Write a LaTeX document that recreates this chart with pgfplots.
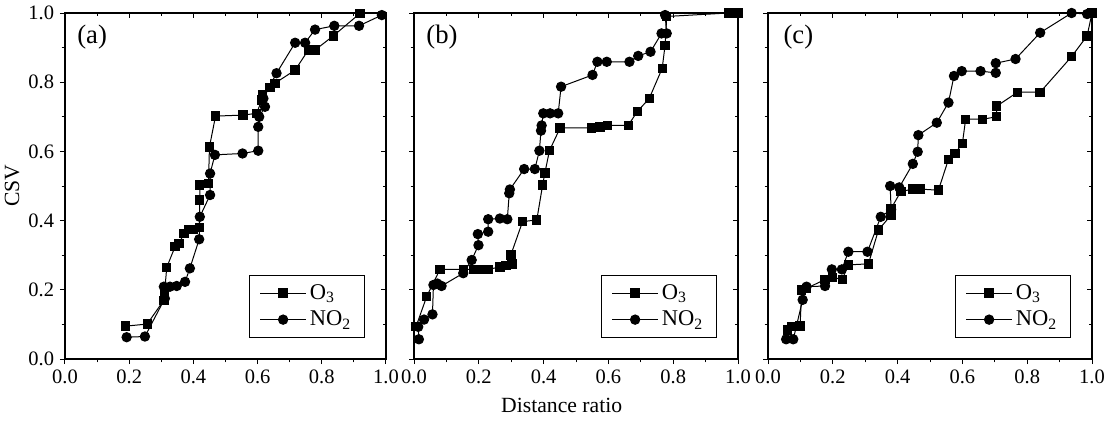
\documentclass[border=0pt]{standalone}
\usepackage{fontspec}
\setmainfont{Liberation Serif}
\usepackage{pgfplots}
\pgfplotsset{compat=1.18}

% 1 px of the reference = 0.6pt
\pgfplotsset{
  panel/.style={
    scale only axis, height=207.6pt,
    xmin=0, xmax=1, ymin=0, ymax=1,
    xtick={0,0.2,0.4,0.6,0.8,1.0}, ytick={0,0.2,0.4,0.6,0.8,1.0},
    minor x tick num=1, minor y tick num=1,
    axis line style={line width=0.7pt},
    major tick length=3pt, minor tick length=2pt,
    every tick/.style={black, line width=0.6pt},
    /pgf/number format/fixed, /pgf/number format/fixed zerofill,
    /pgf/number format/precision=1,
    /pgf/number format/assume math mode=true,
    ticklabel style={font=\fontsize{12.3}{12.3}\selectfont},
    clip=false,
  },
  front/.style={panel, tick align=outside, xtick pos=bottom, ytick pos=left,
    legend style={at={(1,0)}, anchor=south east, xshift=-12.6pt, yshift=12.6pt,
      font=\fontsize{13.5}{13.5}\selectfont, draw=black, line width=0.6pt,
      inner xsep=6pt, inner ysep=3.5pt, row sep=1.5pt},
    legend cell align=left,
    legend image code/.code={\draw[mark repeat=2,mark phase=2,##1]
      plot coordinates {(0pt,0pt)(13.8pt,0pt)(27.6pt,0pt)};},
  },
  back/.style={panel, tick align=inside, xtick pos=top, ytick pos=right,
    xticklabels={}, yticklabels={}},
  othree/.style={black, line width=0.6pt, mark=square*, mark size=2.5pt,
    mark options={solid, fill=black}},
  ntwo/.style={black, line width=0.6pt, mark=*, mark size=2.8pt,
    mark options={solid, fill=black}},
}

\begin{document}
\begin{tikzpicture}
\useasboundingbox (-39pt,-37.2pt) rectangle (628.8pt,215.4pt);

% ---- (a)
\begin{axis}[front, at={(0pt,0pt)}, width=192.6pt]
\addplot[othree] coordinates {
(0.189,0.095)(0.256,0.101)(0.308,0.170)(0.310,0.190)(0.317,0.265)(0.343,0.325)
(0.355,0.334)(0.371,0.363)(0.384,0.375)(0.400,0.375)(0.418,0.380)(0.420,0.460)
(0.420,0.503)(0.447,0.508)(0.450,0.613)(0.469,0.702)(0.555,0.705)(0.597,0.710)
(0.613,0.749)(0.615,0.763)(0.639,0.785)(0.654,0.797)(0.717,0.835)(0.758,0.893)
(0.779,0.893)(0.836,0.934)(0.919,0.999)};
\addlegendentry{O\textsubscript{3}}
\addplot[ntwo] coordinates {
(0.192,0.063)(0.249,0.065)(0.311,0.175)(0.308,0.209)(0.327,0.209)(0.348,0.211)
(0.374,0.223)(0.389,0.262)(0.418,0.346)(0.420,0.411)(0.452,0.474)(0.452,0.536)
(0.467,0.590)(0.553,0.594)(0.602,0.602)(0.602,0.671)(0.605,0.700)(0.623,0.729)
(0.618,0.753)(0.659,0.826)(0.717,0.914)(0.748,0.914)(0.779,0.952)(0.839,0.963)
(0.916,0.963)(0.987,0.994)};
\addlegendentry{NO\textsubscript{2}}
\node[anchor=west, font=\fontsize{16}{16}\selectfont] at (rel axis cs:0.02,0.93) {(a)};
\end{axis}
\begin{axis}[back, at={(0pt,0pt)}, width=192.6pt]
\end{axis}

% ---- (b)
\begin{axis}[front, at={(209.4pt,0pt)}, width=194.4pt, yticklabels={}]
\addplot[othree] coordinates {
(0.006,0.093)(0.039,0.180)(0.080,0.259)(0.152,0.259)(0.183,0.259)(0.209,0.259)
(0.229,0.259)(0.265,0.266)(0.284,0.270)(0.302,0.275)(0.299,0.301)(0.335,0.397)
(0.379,0.402)(0.397,0.503)(0.404,0.538)(0.418,0.602)(0.451,0.668)(0.548,0.668)
(0.574,0.671)(0.597,0.675)(0.661,0.675)(0.689,0.715)(0.726,0.753)(0.766,0.840)
(0.775,0.907)(0.780,0.990)(0.970,1.000)(1.000,1.000)};
\addlegendentry{O\textsubscript{3}}
\addplot[ntwo] coordinates {
(0.015,0.057)(0.013,0.093)(0.031,0.114)(0.057,0.129)(0.060,0.214)(0.072,0.218)
(0.085,0.211)(0.152,0.248)(0.178,0.286)(0.199,0.329)(0.197,0.361)(0.229,0.368)
(0.229,0.404)(0.265,0.406)(0.288,0.404)(0.294,0.479)(0.296,0.490)(0.340,0.549)
(0.373,0.549)(0.387,0.602)(0.392,0.660)(0.394,0.675)(0.399,0.710)(0.420,0.710)
(0.445,0.710)(0.454,0.787)(0.551,0.821)(0.566,0.859)(0.595,0.859)(0.665,0.859)
(0.692,0.876)(0.730,0.888)(0.764,0.941)(0.780,0.941)(0.775,0.994)};
\addlegendentry{NO\textsubscript{2}}
\node[anchor=west, font=\fontsize{16}{16}\selectfont] at (rel axis cs:0.02,0.93) {(b)};
\end{axis}
\begin{axis}[back, at={(209.4pt,0pt)}, width=194.4pt]
\end{axis}

% ---- (c)
\begin{axis}[front, at={(421.8pt,0pt)}, width=194.4pt, yticklabels={}]
\addplot[othree] coordinates {
(0.060,0.084)(0.073,0.093)(0.099,0.095)(0.104,0.199)(0.119,0.204)(0.176,0.230)
(0.200,0.236)(0.229,0.230)(0.248,0.272)(0.310,0.275)(0.341,0.373)(0.380,0.416)
(0.380,0.435)(0.410,0.484)(0.447,0.491)(0.469,0.491)(0.526,0.488)(0.557,0.577)
(0.577,0.594)(0.600,0.623)(0.610,0.693)(0.662,0.693)(0.706,0.700)(0.706,0.731)
(0.770,0.771)(0.840,0.771)(0.937,0.874)(0.985,0.934)(1.000,1.000)};
\addlegendentry{O\textsubscript{3}}
\addplot[ntwo] coordinates {
(0.056,0.057)(0.078,0.057)(0.107,0.171)(0.119,0.209)(0.176,0.211)(0.197,0.259)
(0.228,0.259)(0.248,0.310)(0.307,0.310)(0.348,0.411)(0.380,0.432)(0.377,0.500)
(0.405,0.496)(0.447,0.564)(0.462,0.599)(0.464,0.647)(0.521,0.683)(0.557,0.741)
(0.574,0.818)(0.598,0.832)(0.656,0.832)(0.703,0.827)(0.703,0.855)(0.764,0.867)
(0.840,0.943)(0.937,1.000)(0.985,0.997)};
\addlegendentry{NO\textsubscript{2}}
\node[anchor=west, font=\fontsize{16}{16}\selectfont] at (rel axis cs:0.03,0.93) {(c)};
\end{axis}
\begin{axis}[back, at={(421.8pt,0pt)}, width=194.4pt]
\end{axis}

\node[rotate=90, font=\fontsize{13}{13}\selectfont] at (-31.8pt,104pt) {CSV};
\node[font=\fontsize{13}{13}\selectfont] at (298pt,-28pt) {Distance ratio};
\end{tikzpicture}
\end{document}
